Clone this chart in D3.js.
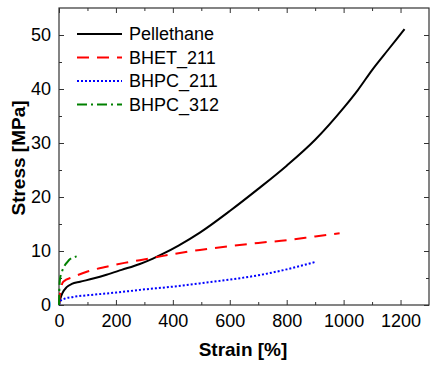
<!DOCTYPE html>
<html lang="en">
<head>
<meta charset="UTF-8">
<title>Stress-strain</title>
<script src="https://cdn.jsdelivr.net/npm/d3@7"></script>
<style>
  body { margin: 0; background: #fff; }
  text { font-family: "Liberation Sans", Arial, sans-serif; }
  .line { fill: none; stroke-width: 2px; }
</style>
</head>
<body>
<script>
// data: [strain %, stress MPa]
var pellethane = [[0,0],[5,1.2],[12,2.2],[27,3.3],[45,3.9],[74,4.3],[120,4.9],[167,5.6],[220,6.5],[284,7.6],[330,8.6],[366,9.5],[420,11.0],[495,13.4],[600,17.4],[700,21.5],[800,25.8],[900,30.6],[1000,36.5],[1050,39.8],[1100,43.5],[1160,47.5],[1214,51.1]];
var bhet211 = [[0,0],[4,2.3],[8,3.4],[15,4.3],[50,5.2],[100,6.2],[167,7.1],[230,7.8],[284,8.3],[366,9.1],[495,10.2],[600,10.9],[700,11.5],[800,12.0],[900,12.7],[986,13.3]];
var bhpc211 = [[0,0],[6,0.8],[21,1.2],[50,1.5],[109,1.85],[200,2.3],[284,2.8],[400,3.4],[495,4.0],[600,4.7],[700,5.5],[800,6.6],[902,8.0]];
var bhpc312 = [[0,0],[1,2.5],[3,4.6],[10,6.1],[21,7.4],[30,8.0],[39,8.5],[56,8.9],[62,9.0]];

var series = [
  {name: "Pellethane", data: pellethane, color: "#000000", dash: null},
  {name: "BHET_211", data: bhet211, color: "#ff0000", dash: "12,8"},
  {name: "BHPC_211", data: bhpc211, color: "#0000ff", dash: "2,2"},
  {name: "BHPC_312", data: bhpc312, color: "#008000", dash: "10,4,2,4"}
];

var xMajor = [0, 200, 400, 600, 800, 1000, 1200];
var yMajor = [0, 10, 20, 30, 40, 50];

var margin = {top: 8, right: 12, bottom: 69, left: 59},
    width = 441 - margin.left - margin.right,
    height = 374 - margin.top - margin.bottom;

var x = d3.scaleLinear().domain([0, 1300]).range([0, width]);
var y = d3.scaleLinear().domain([0, 55]).range([height, 0]);

var svg = d3.select("body").append("svg")
    .attr("width", 441).attr("height", 374)
  .append("g")
    .attr("transform", "translate(" + margin.left + "," + margin.top + ")");

var xMinor = d3.range(100, 1300, 200);
var yMinor = d3.range(5, 55, 10);

// axes with inward ticks, on all four sides
function tickStyle(g) {
  g.select(".domain").remove();
  g.selectAll("line").attr("stroke", "#333");
  g.selectAll("text").style("font-size", "18px").attr("fill", "#000");
}

svg.append("g").attr("transform", "translate(0," + height + ")")
  .call(d3.axisBottom(x).tickValues(xMajor).tickFormat(d3.format("d")).tickSizeInner(-5).tickSizeOuter(0).tickPadding(9))
  .call(tickStyle);
svg.append("g").attr("transform", "translate(0," + height + ")")
  .call(d3.axisBottom(x).tickValues(xMinor).tickSize(-3).tickFormat(""))
  .call(tickStyle);
svg.append("g")
  .call(d3.axisTop(x).tickValues(xMajor).tickSize(-5).tickFormat(""))
  .call(tickStyle);
svg.append("g")
  .call(d3.axisTop(x).tickValues(xMinor).tickSize(-3).tickFormat(""))
  .call(tickStyle);

svg.append("g")
  .call(d3.axisLeft(y).tickValues(yMajor).tickFormat(d3.format("d")).tickSizeInner(-5).tickSizeOuter(0).tickPadding(8))
  .call(tickStyle);
svg.append("g")
  .call(d3.axisLeft(y).tickValues(yMinor).tickSize(-3).tickFormat(""))
  .call(tickStyle);
svg.append("g").attr("transform", "translate(" + width + ",0)")
  .call(d3.axisRight(y).tickValues(yMajor).tickSize(-5).tickFormat(""))
  .call(tickStyle);
svg.append("g").attr("transform", "translate(" + width + ",0)")
  .call(d3.axisRight(y).tickValues(yMinor).tickSize(-3).tickFormat(""))
  .call(tickStyle);

// frame
svg.append("rect")
  .attr("width", width).attr("height", height)
  .attr("fill", "none").attr("stroke", "#333").attr("stroke-width", 1.2);

var line = d3.line()
  .x(function(d) { return x(d[0]); })
  .y(function(d) { return y(d[1]); })
  .curve(d3.curveMonotoneX);

series.forEach(function(s) {
  svg.append("path")
    .datum(s.data)
    .attr("class", "line")
    .attr("stroke", s.color)
    .attr("stroke-dasharray", s.dash)
    .attr("d", line);
});

// legend
var legend = svg.append("g").attr("transform", "translate(18,26)");
series.forEach(function(s, i) {
  var row = legend.append("g").attr("transform", "translate(0," + (i * 23.5) + ")");
  row.append("line")
    .attr("x1", 0).attr("x2", 45)
    .attr("stroke", s.color).attr("stroke-width", 2)
    .attr("stroke-dasharray", s.dash);
  row.append("text")
    .attr("x", 52).attr("dy", "0.35em")
    .style("font-size", "18px")
    .text(s.name);
});

// axis labels
svg.append("text")
  .attr("x", 243 - margin.left).attr("y", height + 51)
  .style("text-anchor", "middle").style("font-size", "19px").style("font-weight", "bold")
  .text("Strain [%]");

svg.append("text")
  .attr("transform", "rotate(-90)")
  .attr("x", -(158 - margin.top)).attr("y", -34)
  .style("text-anchor", "middle").style("font-size", "19px").style("font-weight", "bold")
  .text("Stress [MPa]");
</script>
</body>
</html>
